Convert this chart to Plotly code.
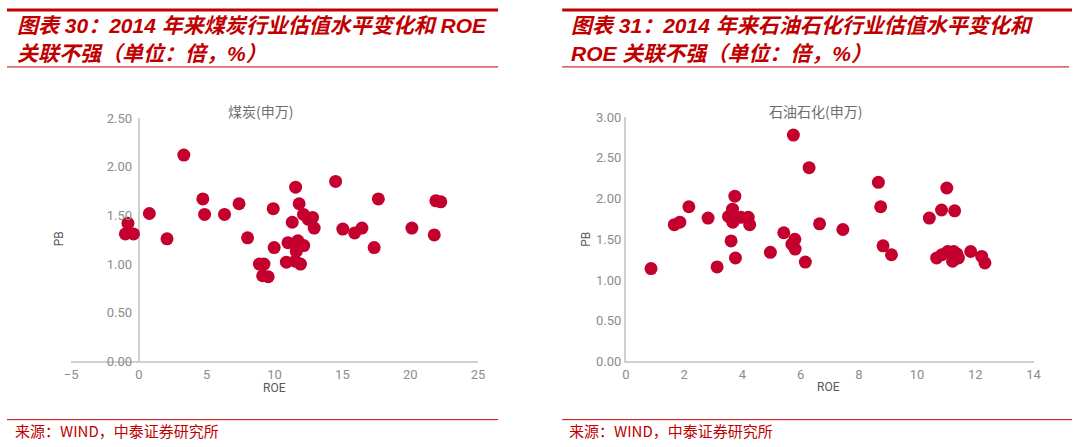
import plotly.graph_objects as go

# ---- data ----
coal_roe = [3.31, -0.81, -1.0, -0.40, 0.77, 2.07, 4.71, 4.84, 6.31, 7.38, 8.01, 9.90, 9.97,
            8.88, 9.22, 9.12, 9.53, 10.87, 10.99, 11.30, 11.55, 11.81, 11.72, 11.60, 11.52,
            11.91, 12.15, 11.84, 12.13, 12.80, 12.92, 12.49, 14.50, 15.03, 15.90, 16.44,
            17.34, 17.65, 20.12, 21.77, 21.89, 22.25]
coal_pb = [2.12, 1.42, 1.31, 1.31, 1.52, 1.26, 1.67, 1.51, 1.51, 1.62, 1.27, 1.57, 1.17,
           1.00, 1.00, 0.88, 0.87, 1.02, 1.22, 1.43, 1.79, 1.62, 1.24, 1.13, 1.03,
           1.00, 1.19, 1.19, 1.51, 1.48, 1.37, 1.46, 1.85, 1.36, 1.32, 1.37,
           1.17, 1.67, 1.37, 1.30, 1.65, 1.64]

oil_roe = [0.86, 1.66, 1.85, 2.16, 2.82, 3.13, 3.52, 3.66, 3.74, 3.67, 3.61, 3.76, 3.95,
           4.20, 4.25, 4.96, 5.42, 5.75, 5.80, 5.70, 5.81, 6.16, 6.29, 6.65, 7.45, 8.67,
           8.75, 8.83, 9.12, 10.42, 10.84, 11.02, 11.29, 10.67, 10.85, 11.05, 11.26,
           11.37, 11.22, 11.42, 11.84, 12.22, 12.33]
oil_pb = [1.14, 1.68, 1.71, 1.90, 1.76, 1.16, 1.78, 1.87, 2.03, 1.71, 1.48, 1.27, 1.77,
          1.77, 1.68, 1.34, 1.58, 2.78, 1.50, 1.44, 1.38, 1.22, 2.38, 1.69, 1.62, 2.20,
          1.90, 1.42, 1.31, 1.76, 1.86, 2.13, 1.85, 1.27, 1.31, 1.35, 1.35,
          1.32, 1.23, 1.27, 1.35, 1.29, 1.21]

title_left = ["图表 30：2014 年来煤炭行业估值水平变化和 ROE", "关联不强（单位：倍，%）"]
title_right = ["图表 31：2014 年来石油石化行业估值水平变化和", "ROE 关联不强（单位：倍，%）"]
chart_left = "煤炭(申万)"
chart_right = "石油石化(申万)"
source_text = "来源：WIND，中泰证券研究所"

RED = "#C00000"
MARK = "#C4002F"
AXIS = "#D0D0D0"
TICK = "#8C8C8C"
W, H = 1080, 447

def px(x):
    return x / W

def py(y):
    return 1 - y / H

fig = go.Figure()
fig.add_trace(go.Scatter(x=coal_roe, y=coal_pb, mode="markers", xaxis="x", yaxis="y",
                         marker=dict(size=13, color=MARK), showlegend=False))
fig.add_trace(go.Scatter(x=oil_roe, y=oil_pb, mode="markers", xaxis="x2", yaxis="y2",
                         marker=dict(size=13, color=MARK), showlegend=False))

tickfont = dict(family="Liberation Sans Narrow, Roboto, sans-serif", size=13, color=TICK)

fig.update_layout(
    width=W, height=H, margin=dict(l=0, r=0, t=0, b=0),
    paper_bgcolor="white", plot_bgcolor="white",
    font=dict(family="Noto Sans CJK SC"),
    xaxis=dict(domain=[px(65), px(477.7)], range=[-5, 25], dtick=5, tick0=0,
               showgrid=False, showline=True, linecolor=AXIS, linewidth=2,
               zeroline=True, zerolinecolor=AXIS, zerolinewidth=2,
               ticks="", tickfont=tickfont, anchor="y", fixedrange=True),
    yaxis=dict(domain=[py(366.7), py(115)], range=[0, 2.5], dtick=0.5, tickformat=".2f",
               showgrid=False, showline=False, zeroline=False, ticks="",
               tickfont=tickfont, anchor="x", ticklabelstandoff=-62),
    xaxis2=dict(domain=[px(627.7), px(1041)], range=[0, 14], dtick=2,
                showgrid=False, showline=True, linecolor=AXIS, linewidth=2,
                zeroline=False, ticks="", tickfont=tickfont, anchor="y2"),
    yaxis2=dict(domain=[py(366.7), py(114)], range=[0, 3], dtick=0.5, tickformat=".2f",
                showgrid=False, showline=True, linecolor=AXIS, linewidth=2,
                zeroline=False, ticks="", tickfont=tickfont, anchor="x2"),
)

shapes = []
# top red lines
shapes.append(dict(type="line", xref="paper", yref="paper", x0=0, x1=px(498), y0=py(3), y1=py(3),
                   line=dict(color=RED, width=3)))
shapes.append(dict(type="line", xref="paper", yref="paper", x0=px(563), x1=1, y0=py(3), y1=py(3),
                   line=dict(color=RED, width=3)))
# under-title lines
shapes.append(dict(type="line", xref="paper", yref="paper", x0=0, x1=px(498), y0=py(62), y1=py(62),
                   line=dict(color=RED, width=1)))
shapes.append(dict(type="line", xref="paper", yref="paper", x0=px(563), x1=px(1077), y0=py(62), y1=py(62),
                   line=dict(color=RED, width=1)))
# bottom lines
shapes.append(dict(type="line", xref="paper", yref="paper", x0=0, x1=px(498), y0=py(427), y1=py(427),
                   line=dict(color=RED, width=1)))
shapes.append(dict(type="line", xref="paper", yref="paper", x0=px(563), x1=1, y0=py(427), y1=py(427),
                   line=dict(color=RED, width=1)))
fig.update_layout(shapes=shapes)

ann = []
title_font = dict(family="Liberation Sans, Noto Sans CJK SC", size=21, color=RED)
for i, t in enumerate(title_left):
    ann.append(dict(text="<b><i>" + t + "</i></b>", xref="paper", yref="paper", x=px(8),
                    y=py(19 + 29 * i), xanchor="left", yanchor="middle", showarrow=False,
                    font=title_font))
for i, t in enumerate(title_right):
    ann.append(dict(text="<b><i>" + t + "</i></b>", xref="paper", yref="paper", x=px(570),
                    y=py(19 + 29 * i), xanchor="left", yanchor="middle", showarrow=False,
                    font=title_font))
src_font = dict(family="Noto Sans CJK SC", size=15, color=RED)
ann.append(dict(text=source_text, xref="paper", yref="paper", x=px(6), y=py(438),
                xanchor="left", yanchor="middle", showarrow=False, font=src_font))
ann.append(dict(text=source_text, xref="paper", yref="paper", x=px(568), y=py(438),
                xanchor="left", yanchor="middle", showarrow=False, font=src_font))
ct_font = dict(family="Noto Sans CJK SC", size=14, color="#6E6E6E")
ann.append(dict(text=chart_left, xref="paper", yref="paper", x=px(257), y=py(108),
                xanchor="center", yanchor="middle", showarrow=False, font=ct_font))
ann.append(dict(text=chart_right, xref="paper", yref="paper", x=px(820), y=py(108),
                xanchor="center", yanchor="middle", showarrow=False, font=ct_font))
lab_font = dict(family="Liberation Sans Narrow, Roboto, sans-serif", size=12, color="#595959")
ann.append(dict(text="PB", xref="paper", yref="paper", x=px(53), y=py(240), textangle=-90,
                xanchor="center", yanchor="middle", showarrow=False, font=lab_font))
ann.append(dict(text="PB", xref="paper", yref="paper", x=px(587), y=py(240), textangle=-90,
                xanchor="center", yanchor="middle", showarrow=False, font=lab_font))
ann.append(dict(text="ROE", xref="paper", yref="paper", x=px(271), y=py(394),
                xanchor="center", yanchor="middle", showarrow=False, font=lab_font))
ann.append(dict(text="ROE", xref="paper", yref="paper", x=px(833), y=py(393),
                xanchor="center", yanchor="middle", showarrow=False, font=lab_font))
fig.update_layout(annotations=ann)

fig.write_html("out.html")
